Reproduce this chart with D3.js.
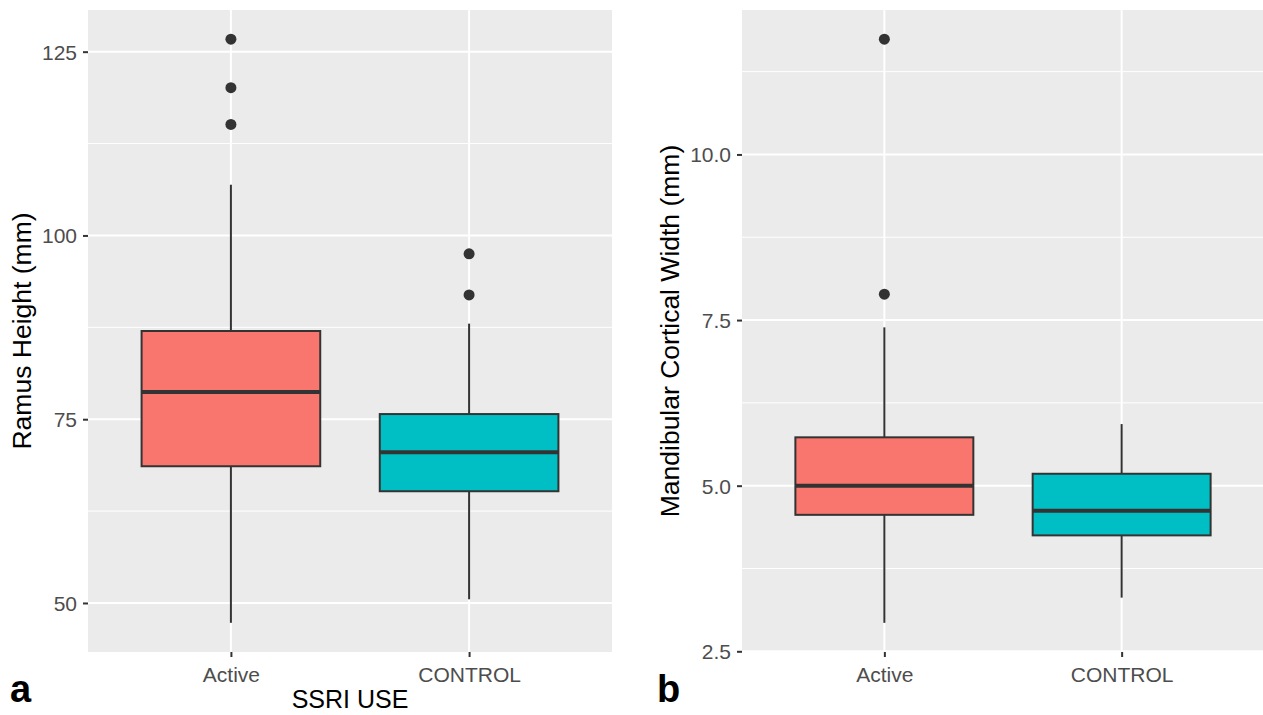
<!DOCTYPE html>
<html>
<head>
<meta charset="utf-8">
<script src="https://cdn.jsdelivr.net/npm/d3@7"></script>
<style>
  html, body { margin: 0; padding: 0; background: #ffffff; }
  svg { display: block; font-family: "Liberation Sans", Arial, sans-serif; }
</style>
</head>
<body>
<svg id="chart" width="1263" height="715"></svg>
<script>
// ---------- data ----------
const categories = ["Active", "CONTROL"];

// Panel a: Ramus Height (mm)
const ramusLow     = [47.3, 50.5];
const ramusQ1      = [68.6, 65.2];
const ramusMedian  = [78.7, 70.5];
const ramusQ3      = [87.0, 75.7];
const ramusHigh    = [106.9, 88.0];
const ramusOutliers = [[126.7, 120.1, 115.1], [97.5, 91.9]];
const ramusTicks   = [50, 75, 100, 125];

// Panel b: Mandibular Cortical Width (mm)
const widthLow     = [2.93, 3.31];
const widthQ1      = [4.56, 4.25];
const widthMedian  = [5.0, 4.62];
const widthQ3      = [5.73, 5.18];
const widthHigh    = [7.39, 5.93];
const widthOutliers = [[11.74, 7.89], []];
const widthTicks   = [2.5, 5.0, 7.5, 10.0];

const fills = ["#F8766D", "#00BFC4"];

// ---------- drawing ----------
const svg = d3.select("#chart");

function panel(opts) {
  const { left, right, top, bottom, low, q1, med, q3, high, outliers, ticks,
          tickFormat, yTitle, yTitleX, xTitle, tag, tagX } = opts;

  const all = [].concat(low, high, ...outliers);
  const mn = d3.min(all), mx = d3.max(all), pad = (mx - mn) * 0.05;
  const y = d3.scaleLinear().domain([mn - pad, mx + pad]).range([bottom, top]);
  // ggplot-like discrete positions: expansion 0.6 units each side
  const unit = (right - left) / (categories.length - 1 + 1.2);
  const cx = d3.scalePoint().domain(categories).range([left + 0.6 * unit, right - 0.6 * unit]);
  const boxW = 0.75 * unit;

  const g = svg.append("g");
  g.append("rect").attr("x", left).attr("y", top)
    .attr("width", right - left).attr("height", bottom - top).attr("fill", "#EBEBEB");

  // minor gridlines
  const step = ticks[1] - ticks[0];
  const minor = [];
  for (let i = 0; i < ticks.length + 1; i++) {
    const v = ticks[0] - step / 2 + i * step;
    if (v >= y.domain()[0] && v <= y.domain()[1]) minor.push(v);
  }
  g.selectAll(".minor").data(minor).enter().append("line")
    .attr("x1", left).attr("x2", right)
    .attr("y1", d => y(d)).attr("y2", d => y(d))
    .attr("stroke", "#ffffff").attr("stroke-width", 1);
  // major gridlines
  g.selectAll(".major").data(ticks).enter().append("line")
    .attr("x1", left).attr("x2", right)
    .attr("y1", d => y(d)).attr("y2", d => y(d))
    .attr("stroke", "#ffffff").attr("stroke-width", 2);
  g.selectAll(".vmajor").data(categories).enter().append("line")
    .attr("x1", d => cx(d)).attr("x2", d => cx(d))
    .attr("y1", top).attr("y2", bottom)
    .attr("stroke", "#ffffff").attr("stroke-width", 2);

  const stroke = "#333333";
  categories.forEach((c, i) => {
    const xc = cx(c);
    // whiskers
    g.append("line").attr("x1", xc).attr("x2", xc)
      .attr("y1", y(q3[i])).attr("y2", y(high[i]))
      .attr("stroke", stroke).attr("stroke-width", 2);
    g.append("line").attr("x1", xc).attr("x2", xc)
      .attr("y1", y(q1[i])).attr("y2", y(low[i]))
      .attr("stroke", stroke).attr("stroke-width", 2);
    // box
    g.append("rect").attr("x", xc - boxW / 2).attr("y", y(q3[i]))
      .attr("width", boxW).attr("height", y(q1[i]) - y(q3[i]))
      .attr("fill", fills[i]).attr("stroke", stroke).attr("stroke-width", 2);
    // median
    g.append("line").attr("x1", xc - boxW / 2).attr("x2", xc + boxW / 2)
      .attr("y1", y(med[i])).attr("y2", y(med[i]))
      .attr("stroke", stroke).attr("stroke-width", 4);
    // outliers
    g.selectAll(null).data(outliers[i]).enter().append("circle")
      .attr("cx", xc).attr("cy", d => y(d)).attr("r", 5.5).attr("fill", stroke);
  });

  // y axis
  const ya = g.append("g").attr("transform", `translate(${left},0)`)
    .call(d3.axisLeft(y).tickValues(ticks).tickFormat(tickFormat).tickSize(5).tickPadding(6));
  ya.select(".domain").remove();
  ya.selectAll(".tick line").attr("stroke", "#333333").attr("stroke-width", 2);
  ya.selectAll(".tick text").attr("fill", "#4D4D4D").style("font-size", "21px")
    .style("font-family", "'Liberation Sans', Arial, sans-serif").attr("dy", "0.35em");

  // x axis
  const xa = g.append("g").attr("transform", `translate(0,${bottom})`)
    .call(d3.axisBottom(cx).tickSize(5).tickPadding(10));
  xa.select(".domain").remove();
  xa.selectAll(".tick line").attr("stroke", "#333333").attr("stroke-width", 2);
  xa.selectAll(".tick text").attr("fill", "#4D4D4D").style("font-size", "21px")
    .style("font-family", "'Liberation Sans', Arial, sans-serif");

  // y title
  g.append("text")
    .attr("transform", `translate(${yTitleX},${(top + bottom) / 2}) rotate(-90)`)
    .attr("text-anchor", "middle").attr("fill", "#000")
    .style("font-size", "26.5px").text(yTitle);

  if (xTitle) {
    g.append("text").attr("x", (left + right) / 2).attr("y", 708)
      .attr("text-anchor", "middle").attr("fill", "#000")
      .style("font-size", "25px").text(xTitle);
  }

  g.append("text").attr("x", tagX).attr("y", 702)
    .attr("fill", "#000").style("font-size", "38px").style("font-weight", "bold").text(tag);
}

panel({
  left: 88, right: 612, top: 10, bottom: 652,
  low: ramusLow, q1: ramusQ1, med: ramusMedian, q3: ramusQ3, high: ramusHigh,
  outliers: ramusOutliers, ticks: ramusTicks, tickFormat: d3.format("d"),
  yTitle: "Ramus Height (mm)", yTitleX: 31, xTitle: "SSRI USE", tag: "a", tagX: 10
});

panel({
  left: 742, right: 1264, top: 10, bottom: 652,
  low: widthLow, q1: widthQ1, med: widthMedian, q3: widthQ3, high: widthHigh,
  outliers: widthOutliers, ticks: widthTicks, tickFormat: d3.format(".1f"),
  yTitle: "Mandibular Cortical Width (mm)", yTitleX: 679, xTitle: null, tag: "b", tagX: 657
});
</script>
</body>
</html>
